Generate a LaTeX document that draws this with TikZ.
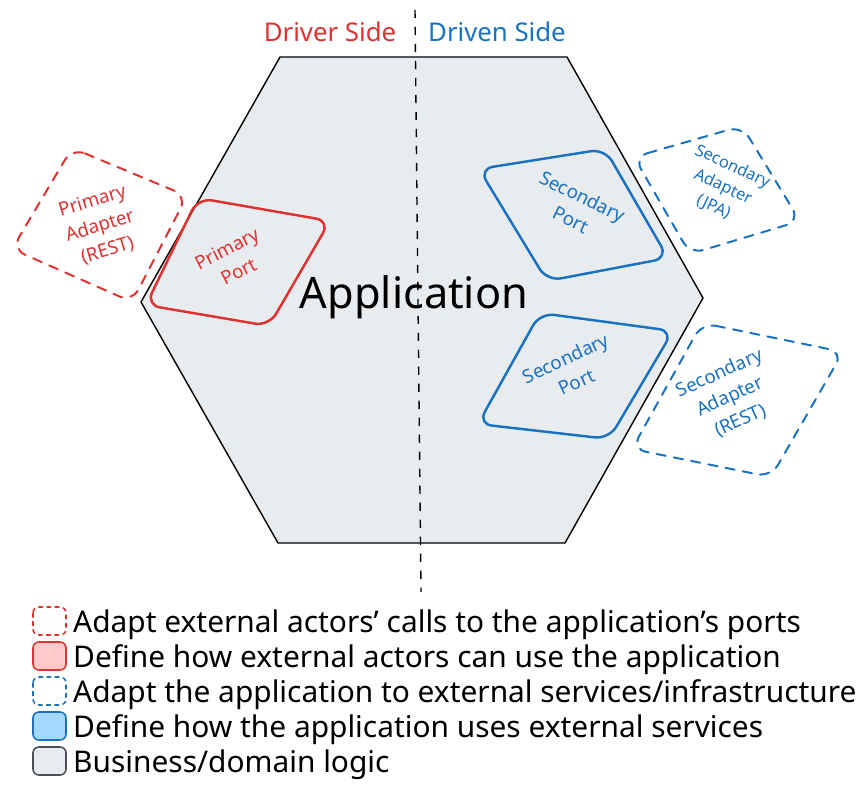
\documentclass[tikz,border=0pt]{standalone}
\usepackage{fontspec}
\setmainfont{Noto Sans}
\definecolor{exred}{HTML}{E03131}
\definecolor{exblue}{HTML}{1971C2}
\definecolor{exgray}{HTML}{E9ECEF}
\definecolor{exredfill}{HTML}{FFC9C9}
\definecolor{exbluefill}{HTML}{A5D8FF}
\definecolor{exdark}{HTML}{495057}
\begin{document}
\begin{tikzpicture}[x=0.03cm,y=-0.03cm,
  hexa/.style={draw=black,line width=1.2pt,fill=exgray,line join=round},
  portbox/.style={line width=2.1pt,rounded corners=12pt,line join=round},
  adapterbox/.style={line width=1.7pt,rounded corners=12pt,dash pattern=on 8pt off 7pt,line cap=round},
  divider/.style={line width=1.2pt,dash pattern=on 7pt off 7.5pt},
  small/.style={font=\fontsize{16}{22}\selectfont,align=center,inner sep=0pt},
  smaller/.style={font=\fontsize{14}{19}\selectfont,align=center,inner sep=0pt},
  side/.style={font=\fontsize{22}{26}\selectfont,anchor=base,inner sep=0pt},
  legtext/.style={font=\fontsize{25.5}{30}\selectfont,anchor=base west,inner sep=0pt},
  legbox/.style={line width=1.3pt,rounded corners=5pt},
  legdash/.style={legbox,dash pattern=on 4pt off 3pt}
]
\useasboundingbox (0,0) rectangle (866,790);

% hexagon
\draw[hexa] (280,57) -- (567,57) -- (703,298) -- (565,543) -- (278,543) -- (141,302) -- cycle;

% divider
\coordinate (dtop) at (415,10);
\coordinate (dbot) at (421,592);
\draw[divider] (dtop) -- (dbot);

% side labels
\node[side,text=exred] (driver) at (330,42) {Driver Side};
\node[side,text=exblue] (driven) at (497,42) {Driven Side};

% primary adapter
\draw[adapterbox,draw=exred] (72,148) -- (187,196) -- (132,302) -- (12,249) -- cycle;
\node[small,text=exred,rotate=17] (pa) at (100,226) {Primary\\Adapter\\(REST)};

% primary port
\draw[portbox,draw=exred] (198,198) -- (330,221) -- (269,326) -- (146,305) -- cycle;
\node[small,text=exred,rotate=27] (pp) at (233,260) {Primary\\Port};

% secondary port (upper)
\draw[portbox,draw=exblue] (479,169) -- (605,149) -- (668,258) -- (547,281) -- cycle;
\node[small,text=exblue,rotate=-26] (sp1) at (577,208) {Secondary\\Port};

% secondary adapter JPA
\draw[adapterbox,draw=exblue] (634,157) -- (742,126) -- (800,221) -- (690,254) -- cycle;
\node[smaller,text=exblue,rotate=-25] (sa1) at (723,187) {Secondary\\Adapter\\(JPA)};

% secondary port (lower)
\draw[portbox,draw=exblue] (540,313) -- (673,331) -- (609,439) -- (478,424) -- cycle;
\node[small,text=exblue,rotate=25] (sp2) at (571,370) {Secondary\\Port};

% secondary adapter REST
\draw[adapterbox,draw=exblue] (702,323) -- (843,352) -- (771,477) -- (632,449) -- cycle;
\node[small,text=exblue,rotate=24] (sa2) at (730,397) {Secondary\\Adapter\\(REST)};

% application
\node[font=\fontsize{37}{40}\selectfont,anchor=base,inner sep=0pt] (app) at (414,308) {Application};

% legend
\draw[legdash,draw=exred] (33,607) rectangle (66,635);
\node[legtext] (l1) at (73,632) {Adapt external actors' calls to the application's ports};
\draw[legbox,draw=exred,fill=exredfill] (33,642) rectangle (66,670);
\node[legtext] (l2) at (73,667) {Define how external actors can use the application};
\draw[legdash,draw=exblue] (33,677) rectangle (66,705);
\node[legtext] (l3) at (73,702) {Adapt the application to external services/infrastructure};
\draw[legbox,draw=exblue,fill=exbluefill] (33,712) rectangle (66,740);
\node[legtext] (l4) at (73,737) {Define how the application uses external services};
\draw[legbox,draw=exdark,fill=exgray] (33,747) rectangle (66,775);
\node[legtext] (l5) at (73,772) {Business/domain logic};
\end{tikzpicture}
\end{document}
